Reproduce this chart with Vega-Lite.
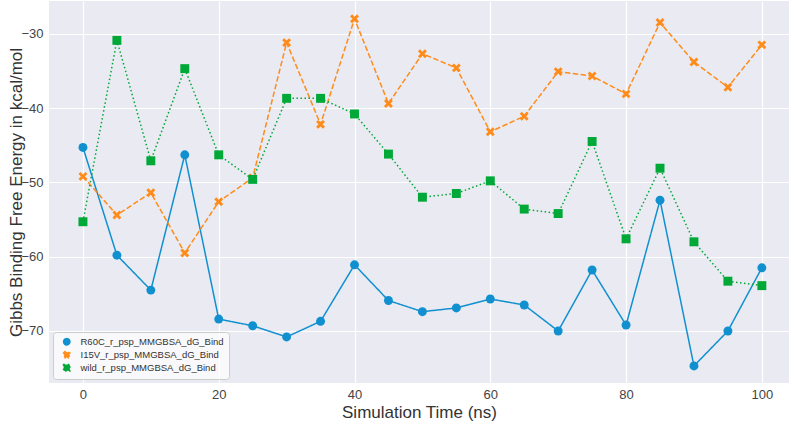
{
  "$schema": "https://vega.github.io/schema/vega-lite/v6.json",
  "width": 740,
  "height": 382,
  "autosize": {"type": "none"},
  "padding": {"left": 49, "top": 1, "right": 0, "bottom": 42},
  "background": "white",
  "config": {
    "view": {"fill": "#EAEAF2", "stroke": null},
    "font": "Liberation Sans",
    "legend": {
      "orient": "bottom-left", "offset": 4, "padding": 5,
      "labelFontSize": 9.5, "labelColor": "#333333", "symbolSize": 40,
      "rowPadding": 0, "symbolOffset": 4, "labelOffset": 9,
      "fillColor": "rgba(255,255,255,0.7)", "strokeColor": "#cccccc", "cornerRadius": 3
    }
  },
  "data": {"values": [
    {"t": 0, "s": "R60C_r_psp_MMGBSA_dG_Bind", "v": -45.3},
    {"t": 5, "s": "R60C_r_psp_MMGBSA_dG_Bind", "v": -59.8},
    {"t": 10, "s": "R60C_r_psp_MMGBSA_dG_Bind", "v": -64.5},
    {"t": 15, "s": "R60C_r_psp_MMGBSA_dG_Bind", "v": -46.3},
    {"t": 20, "s": "R60C_r_psp_MMGBSA_dG_Bind", "v": -68.4},
    {"t": 25, "s": "R60C_r_psp_MMGBSA_dG_Bind", "v": -69.3},
    {"t": 30, "s": "R60C_r_psp_MMGBSA_dG_Bind", "v": -70.8},
    {"t": 35, "s": "R60C_r_psp_MMGBSA_dG_Bind", "v": -68.7},
    {"t": 40, "s": "R60C_r_psp_MMGBSA_dG_Bind", "v": -61.1},
    {"t": 45, "s": "R60C_r_psp_MMGBSA_dG_Bind", "v": -65.9},
    {"t": 50, "s": "R60C_r_psp_MMGBSA_dG_Bind", "v": -67.4},
    {"t": 55, "s": "R60C_r_psp_MMGBSA_dG_Bind", "v": -66.9},
    {"t": 60, "s": "R60C_r_psp_MMGBSA_dG_Bind", "v": -65.7},
    {"t": 65, "s": "R60C_r_psp_MMGBSA_dG_Bind", "v": -66.5},
    {"t": 70, "s": "R60C_r_psp_MMGBSA_dG_Bind", "v": -70.0},
    {"t": 75, "s": "R60C_r_psp_MMGBSA_dG_Bind", "v": -61.8},
    {"t": 80, "s": "R60C_r_psp_MMGBSA_dG_Bind", "v": -69.2},
    {"t": 85, "s": "R60C_r_psp_MMGBSA_dG_Bind", "v": -52.4},
    {"t": 90, "s": "R60C_r_psp_MMGBSA_dG_Bind", "v": -74.7},
    {"t": 95, "s": "R60C_r_psp_MMGBSA_dG_Bind", "v": -70.0},
    {"t": 100, "s": "R60C_r_psp_MMGBSA_dG_Bind", "v": -61.5},
    {"t": 0, "s": "I15V_r_psp_MMGBSA_dG_Bind", "v": -49.2},
    {"t": 5, "s": "I15V_r_psp_MMGBSA_dG_Bind", "v": -54.4},
    {"t": 10, "s": "I15V_r_psp_MMGBSA_dG_Bind", "v": -51.4},
    {"t": 15, "s": "I15V_r_psp_MMGBSA_dG_Bind", "v": -59.5},
    {"t": 20, "s": "I15V_r_psp_MMGBSA_dG_Bind", "v": -52.6},
    {"t": 25, "s": "I15V_r_psp_MMGBSA_dG_Bind", "v": -49.4},
    {"t": 30, "s": "I15V_r_psp_MMGBSA_dG_Bind", "v": -31.2},
    {"t": 35, "s": "I15V_r_psp_MMGBSA_dG_Bind", "v": -42.2},
    {"t": 40, "s": "I15V_r_psp_MMGBSA_dG_Bind", "v": -28.0},
    {"t": 45, "s": "I15V_r_psp_MMGBSA_dG_Bind", "v": -39.4},
    {"t": 50, "s": "I15V_r_psp_MMGBSA_dG_Bind", "v": -32.7},
    {"t": 55, "s": "I15V_r_psp_MMGBSA_dG_Bind", "v": -34.6},
    {"t": 60, "s": "I15V_r_psp_MMGBSA_dG_Bind", "v": -43.2},
    {"t": 65, "s": "I15V_r_psp_MMGBSA_dG_Bind", "v": -41.1},
    {"t": 70, "s": "I15V_r_psp_MMGBSA_dG_Bind", "v": -35.1},
    {"t": 75, "s": "I15V_r_psp_MMGBSA_dG_Bind", "v": -35.7},
    {"t": 80, "s": "I15V_r_psp_MMGBSA_dG_Bind", "v": -38.1},
    {"t": 85, "s": "I15V_r_psp_MMGBSA_dG_Bind", "v": -28.5},
    {"t": 90, "s": "I15V_r_psp_MMGBSA_dG_Bind", "v": -33.8},
    {"t": 95, "s": "I15V_r_psp_MMGBSA_dG_Bind", "v": -37.2},
    {"t": 100, "s": "I15V_r_psp_MMGBSA_dG_Bind", "v": -31.5},
    {"t": 0, "s": "wild_r_psp_MMGBSA_dG_Bind", "v": -55.3},
    {"t": 5, "s": "wild_r_psp_MMGBSA_dG_Bind", "v": -30.9},
    {"t": 10, "s": "wild_r_psp_MMGBSA_dG_Bind", "v": -47.1},
    {"t": 15, "s": "wild_r_psp_MMGBSA_dG_Bind", "v": -34.7},
    {"t": 20, "s": "wild_r_psp_MMGBSA_dG_Bind", "v": -46.3},
    {"t": 25, "s": "wild_r_psp_MMGBSA_dG_Bind", "v": -49.6},
    {"t": 30, "s": "wild_r_psp_MMGBSA_dG_Bind", "v": -38.7},
    {"t": 35, "s": "wild_r_psp_MMGBSA_dG_Bind", "v": -38.7},
    {"t": 40, "s": "wild_r_psp_MMGBSA_dG_Bind", "v": -40.8},
    {"t": 45, "s": "wild_r_psp_MMGBSA_dG_Bind", "v": -46.2},
    {"t": 50, "s": "wild_r_psp_MMGBSA_dG_Bind", "v": -52.0},
    {"t": 55, "s": "wild_r_psp_MMGBSA_dG_Bind", "v": -51.5},
    {"t": 60, "s": "wild_r_psp_MMGBSA_dG_Bind", "v": -49.8},
    {"t": 65, "s": "wild_r_psp_MMGBSA_dG_Bind", "v": -53.6},
    {"t": 70, "s": "wild_r_psp_MMGBSA_dG_Bind", "v": -54.2},
    {"t": 75, "s": "wild_r_psp_MMGBSA_dG_Bind", "v": -44.5},
    {"t": 80, "s": "wild_r_psp_MMGBSA_dG_Bind", "v": -57.6},
    {"t": 85, "s": "wild_r_psp_MMGBSA_dG_Bind", "v": -48.1},
    {"t": 90, "s": "wild_r_psp_MMGBSA_dG_Bind", "v": -58.0},
    {"t": 95, "s": "wild_r_psp_MMGBSA_dG_Bind", "v": -63.3},
    {"t": 100, "s": "wild_r_psp_MMGBSA_dG_Bind", "v": -63.9}
  ]},
  "encoding": {
    "x": {
      "field": "t", "type": "quantitative",
      "scale": {"domain": [-5, 104], "nice": false, "zero": false},
      "axis": {
        "title": "Simulation Time (ns)", "values": [0, 20, 40, 60, 80, 100],
        "domain": false, "ticks": false, "gridColor": "white", "gridWidth": 1.2,
        "labelFontSize": 13, "labelColor": "#444444", "labelPadding": 5,
        "titleFontSize": 17, "titleFontWeight": "normal", "titleColor": "#333333", "titlePadding": 3
      }
    },
    "y": {
      "field": "v", "type": "quantitative",
      "scale": {"domain": [-77.0, -25.6], "nice": false, "zero": false},
      "axis": {
        "title": "Gibbs Binding Free Energy in kcal/mol", "values": [-70, -60, -50, -40, -30],
        "domain": false, "ticks": false, "gridColor": "white", "gridWidth": 1.2,
        "labelFontSize": 13, "labelColor": "#444444", "labelPadding": 6,
        "titleFontSize": 17, "titleFontWeight": "normal", "titleColor": "#333333",
        "titleX": -33, "titleBaseline": "middle"
      }
    },
    "color": {
      "field": "s", "type": "nominal", "title": null,
      "scale": {
        "domain": ["R60C_r_psp_MMGBSA_dG_Bind", "I15V_r_psp_MMGBSA_dG_Bind", "wild_r_psp_MMGBSA_dG_Bind"],
        "range": ["#1190D0", "#FF8C1A", "#00A838"]
      }
    }
  },
  "layer": [
    {
      "mark": {"type": "line", "strokeWidth": 1.5},
      "encoding": {
        "strokeDash": {
          "field": "s", "type": "nominal", "title": null,
          "scale": {
            "domain": ["R60C_r_psp_MMGBSA_dG_Bind", "I15V_r_psp_MMGBSA_dG_Bind", "wild_r_psp_MMGBSA_dG_Bind"],
            "range": [[1, 0], [5.5, 2.4], [1.5, 2.5]]
          }
        }
      }
    },
    {
      "mark": {"type": "point", "filled": true, "opacity": 1, "size": 80},
      "encoding": {
        "shape": {
          "field": "s", "type": "nominal", "title": null,
          "scale": {
            "domain": ["R60C_r_psp_MMGBSA_dG_Bind", "I15V_r_psp_MMGBSA_dG_Bind", "wild_r_psp_MMGBSA_dG_Bind"],
            "range": ["circle", "M-1,-0.55L-0.55,-1L0,-0.45L0.55,-1L1,-0.55L0.45,0L1,0.55L0.55,1L0,0.45L-0.55,1L-1,0.55L-0.45,0Z", "square"]
          }
        }
      }
    }
  ]
}
